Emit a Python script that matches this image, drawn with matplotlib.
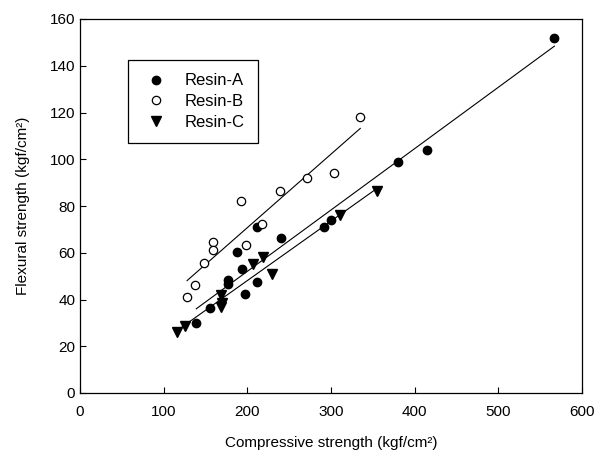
import numpy as np
import matplotlib
matplotlib.use("Agg")
import matplotlib.pyplot as plt

plt.rcParams['font.family'] = ['Liberation Sans', 'DejaVu Sans']

# Resin-A (filled circles)
a_x = [567, 415, 380, 300, 292, 240, 212, 188, 194, 177, 177, 212, 197, 155, 139]
a_y = [152, 104, 99, 74, 71, 66.5, 71, 60.5, 53, 48.5, 46.5, 47.5, 42.5, 36.5, 30]

# Resin-B (open circles)
b_x = [335, 303, 271, 239, 193, 217, 159, 159, 198, 148, 138, 128]
b_y = [118, 94, 92, 86.5, 82, 72.5, 64.5, 61, 63.5, 55.5, 46, 41]

# Resin-C (triangles)
c_x = [116, 125, 168, 170, 169, 207, 219, 229, 311, 355]
c_y = [26, 28.5, 37, 38.5, 42, 55, 58, 51, 76, 86.5]

fig = plt.figure(figsize=(5.95, 4.55), dpi=100)
ax = fig.add_axes([80 / 595, 1 - 393 / 455, 502 / 595, 374 / 455])

series = [
    ('Resin-A', a_x, a_y, dict(marker='o', color='black', markersize=6, linestyle='none')),
    ('Resin-B', b_x, b_y, dict(marker='o', markerfacecolor='white', markeredgecolor='black',
                               markeredgewidth=0.9, markersize=6, linestyle='none')),
    ('Resin-C', c_x, c_y, dict(marker='v', color='black', markersize=7.5, linestyle='none')),
]

for name, xs, ys, style in series:
    xs = np.array(xs, dtype=float)
    ys = np.array(ys, dtype=float)
    k, b = np.polyfit(xs, ys, 1)
    xl = np.array([xs.min(), xs.max()])
    ax.plot(xl, k * xl + b, color='black', linewidth=0.8)
    ax.plot(xs, ys, label=name, **style)

ax.set_xlim(0, 600)
ax.set_ylim(0, 160)
ax.set_xticks(range(0, 601, 100))
ax.set_yticks(range(0, 161, 20))
ax.tick_params(direction='in', length=4, width=0.8, labelsize=11, colors='black')
ax.tick_params(axis='x', pad=9)
for s in ax.spines.values():
    s.set_linewidth(0.9)

ax.set_xlabel('Compressive strength (kgf/cm²)', fontsize=11, labelpad=12)
ax.set_ylabel('Flexural strength (kgf/cm²)', fontsize=11, labelpad=14)

leg = ax.legend(loc='upper left', bbox_to_anchor=(48 / 502, 1 - 41 / 374), borderaxespad=0,
                fontsize=12, frameon=True, fancybox=False, edgecolor='black', framealpha=1,
                handletextpad=0.8, borderpad=0.8, labelspacing=0.35, handlelength=1.8)
leg.get_frame().set_linewidth(0.9)

fig.savefig('out.png', dpi=100)
